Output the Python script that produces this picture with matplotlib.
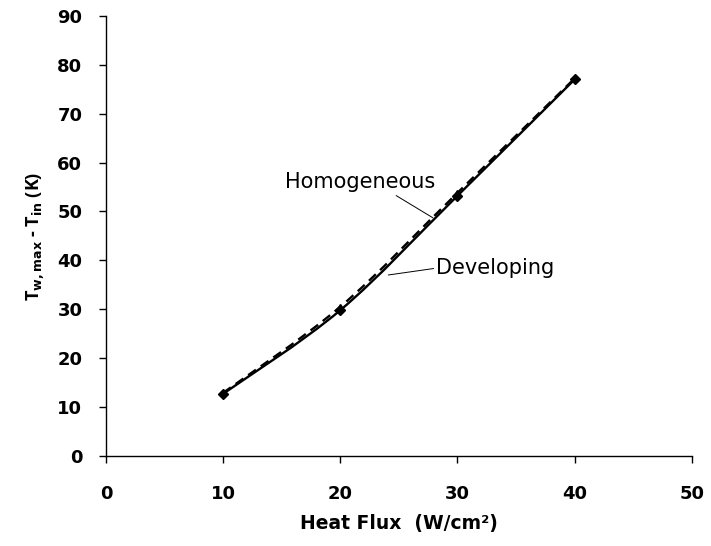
import numpy as np
import matplotlib
matplotlib.use("Agg")
import matplotlib.pyplot as plt
from matplotlib.path import Path
from matplotlib.patches import PathPatch

# data
heat_flux = [10, 20, 30, 40]
developing = [12.7, 29.8, 53.2, 77.0]
homogeneous = [12.9, 30.5, 53.8, 77.2]


def smooth_path(xs, ys):
    # Excel-style smoothed line: Catmull-Rom segments as cubic Beziers
    pts = np.column_stack([xs, ys]).astype(float)
    verts = [pts[0]]
    codes = [Path.MOVETO]
    n = len(pts)
    for i in range(n - 1):
        p0 = pts[i - 1] if i > 0 else pts[i]
        p1, p2 = pts[i], pts[i + 1]
        p3 = pts[i + 2] if i + 2 < n else pts[i + 1]
        c1 = p1 + (p2 - p0) / 6.0
        c2 = p2 - (p3 - p1) / 6.0
        verts += [c1, c2, p2]
        codes += [Path.CURVE4] * 3
    return Path(verts, codes)


fig = plt.figure(figsize=(7.11, 5.46), dpi=100)
ax = fig.add_axes([0.149, 0.165, 0.824, 0.806])

ax.add_patch(PathPatch(smooth_path(heat_flux, developing), fill=False,
                       color='black', lw=1.7))
ax.add_patch(PathPatch(smooth_path(heat_flux, homogeneous), fill=False,
                       color='black', lw=1.7, linestyle=(0, (4, 2.5))))
ax.plot(heat_flux, developing, linestyle='none', marker='D', ms=5,
        color='black')
ax.plot(heat_flux, homogeneous, linestyle='none', marker='^', ms=5,
        color='black')

ax.set_xlim(0, 50)
ax.set_ylim(0, 90)
ax.set_xticks(range(0, 51, 10))
ax.set_yticks(range(0, 91, 10))
for s in ['top', 'right']:
    ax.spines[s].set_visible(False)
for s in ['left', 'bottom']:
    ax.spines[s].set_linewidth(1.0)
ax.tick_params(direction='out', length=5, width=1.0)
ax.tick_params(axis='y', pad=12)
ax.tick_params(axis='x', pad=16)
for lab in ax.get_xticklabels() + ax.get_yticklabels():
    lab.set_fontweight('bold')
    lab.set_fontsize(13)
    lab.set_family('DejaVu Sans')

ax.set_xlabel('Heat Flux  (W/cm\u00b2)', fontsize=13.5,
              fontweight='bold', family='DejaVu Sans', labelpad=8)
ax.set_ylabel('T$_\\mathbf{w,max}$ - T$_\\mathbf{in}$ (K)', fontsize=13,
              fontweight='bold', family='Open Sans', labelpad=8)

# callout labels
ax.annotate('Homogeneous', xy=(27.9, 48.7), xytext=(15.3, 56.0),
            fontsize=15, family='DejaVu Sans', va='center', ha='left',
            arrowprops=dict(arrowstyle='-', color='black', lw=0.7,
                            shrinkA=1, shrinkB=0,
                            relpos=(0.7, 0.0)))
ax.annotate('Developing', xy=(24.1, 37.0), xytext=(28.2, 38.4),
            fontsize=15, family='DejaVu Sans', va='center', ha='left',
            arrowprops=dict(arrowstyle='-', color='black', lw=0.7,
                            shrinkA=0, shrinkB=0,
                            relpos=(0.0, 0.5)))

fig.savefig('out.png', dpi=100)
